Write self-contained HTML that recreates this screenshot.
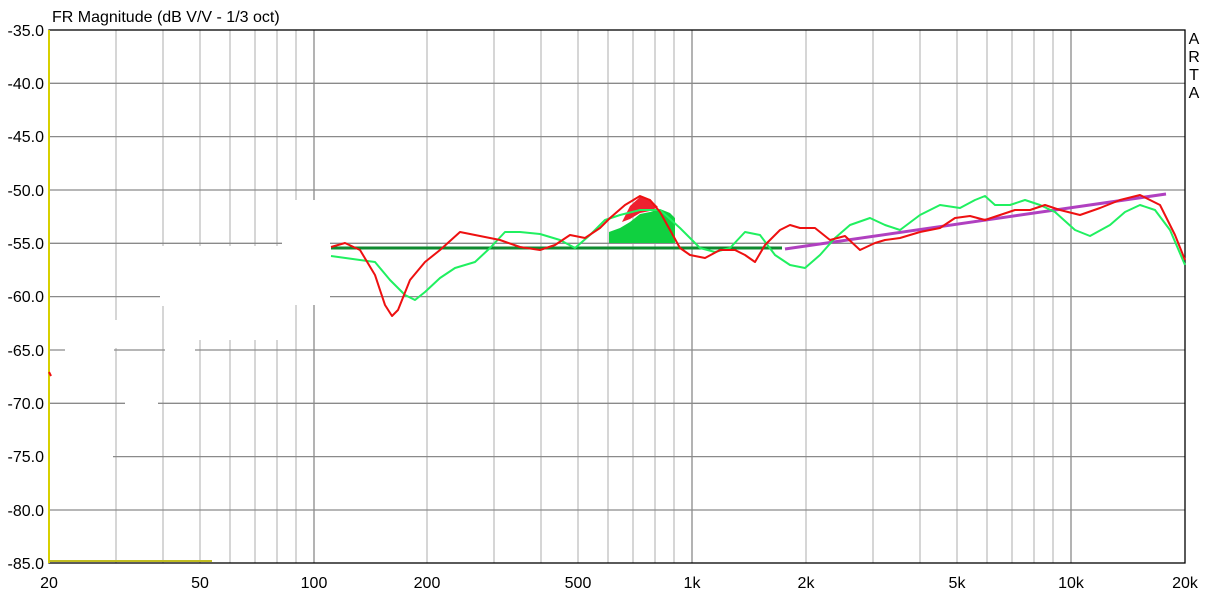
<!DOCTYPE html><html><head><style>body{margin:0;background:#fff}svg{display:block}text{font-family:"Liberation Sans",sans-serif;font-size:16px;fill:#000}</style></head><body>
<svg width="1209" height="594" xmlns="http://www.w3.org/2000/svg">
<rect width="1209" height="594" fill="#fff"/>
<g stroke="#c0c0c0" stroke-width="1.3">
<line x1="116" y1="30" x2="116" y2="563"/><line x1="163" y1="30" x2="163" y2="563"/><line x1="200" y1="30" x2="200" y2="563"/><line x1="230" y1="30" x2="230" y2="563"/><line x1="255" y1="30" x2="255" y2="563"/><line x1="277" y1="30" x2="277" y2="563"/><line x1="296" y1="30" x2="296" y2="563"/>
<line x1="427" y1="30" x2="427" y2="563"/><line x1="494" y1="30" x2="494" y2="563"/><line x1="541" y1="30" x2="541" y2="563"/><line x1="578" y1="30" x2="578" y2="563"/><line x1="608" y1="30" x2="608" y2="563"/><line x1="633" y1="30" x2="633" y2="563"/><line x1="655" y1="30" x2="655" y2="563"/><line x1="674" y1="30" x2="674" y2="563"/>
<line x1="806" y1="30" x2="806" y2="563"/><line x1="873" y1="30" x2="873" y2="563"/><line x1="920" y1="30" x2="920" y2="563"/><line x1="957" y1="30" x2="957" y2="563"/><line x1="987" y1="30" x2="987" y2="563"/><line x1="1012" y1="30" x2="1012" y2="563"/><line x1="1034" y1="30" x2="1034" y2="563"/><line x1="1053" y1="30" x2="1053" y2="563"/>
</g>
<g stroke="#8a8a8a" stroke-width="1.3">
<line x1="314" y1="30" x2="314" y2="563"/><line x1="692" y1="30" x2="692" y2="563"/><line x1="1071" y1="30" x2="1071" y2="563"/>
<line x1="49" y1="83.3" x2="1185" y2="83.3"/><line x1="49" y1="136.6" x2="1185" y2="136.6"/><line x1="49" y1="190" x2="1185" y2="190"/><line x1="49" y1="243.3" x2="1185" y2="243.3"/><line x1="49" y1="296.6" x2="1185" y2="296.6"/><line x1="49" y1="350" x2="1185" y2="350"/><line x1="49" y1="403.3" x2="1185" y2="403.3"/><line x1="49" y1="456.6" x2="1185" y2="456.6"/><line x1="49" y1="510" x2="1185" y2="510"/>
</g>
<g fill="#fff">
<rect x="282" y="200" width="48" height="105"/><rect x="160" y="246" width="125" height="60"/><rect x="196" y="246" width="90" height="94"/>
<rect x="65" y="335" width="49" height="30"/><rect x="165" y="335" width="30" height="30"/><rect x="125" y="390" width="33" height="30"/><rect x="50" y="440" width="63" height="30"/><rect x="110" y="320" width="12" height="28"/>
</g>
<rect x="49" y="30" width="1136" height="533" fill="none" stroke="#000" stroke-width="1.3"/>
<line x1="49" y1="30" x2="49" y2="563" stroke="#d8d000" stroke-width="2"/>
<line x1="49" y1="561" x2="212" y2="561" stroke="#c0bc20" stroke-width="2"/>
<path d="M609,243 L609,232 L620,228 L630,222 L640,214 L650,212 L660,209 L670,213 L675,218 L675,243 Z" fill="#10d040"/>
<path d="M622,222 L630,206 L640,197 L650,199 L658,207 L650,211 L640,213 L630,219 Z" fill="#ee2030"/>
<line x1="331" y1="248" x2="782" y2="248" stroke="#108a30" stroke-width="3"/>
<line x1="785" y1="249" x2="1166" y2="194" stroke="#b040c0" stroke-width="3"/>
<polyline fill="none" stroke="#20f060" stroke-width="2" stroke-linejoin="round" points="331,256 360,260 375,262 390,280 405,295 415,300 425,292 440,278 455,268 475,262 490,248 505,232 520,232 540,234 560,240 575,248 590,235 605,220 620,215 640,210 660,210 680,228 700,248 715,252 730,248 745,232 760,235 775,255 790,265 805,268 820,255 835,238 850,225 870,218 885,225 900,230 920,215 940,205 960,208 975,200 985,196 995,205 1010,205 1025,200 1040,205 1055,212 1075,230 1090,236 1110,225 1125,212 1140,205 1155,210 1170,230 1185,265"/>
<polyline fill="none" stroke="#ee1010" stroke-width="2" stroke-linejoin="round" points="331,247 345,243 360,250 375,275 385,305 392,316 398,310 410,280 425,262 440,250 460,232 480,236 500,240 520,247 540,250 555,245 570,235 585,238 600,228 610,218 625,205 640,196 650,200 660,212 670,230 680,248 690,255 705,258 720,250 735,250 745,255 755,262 765,245 780,230 790,225 800,228 815,228 830,240 845,236 860,250 875,243 885,240 900,238 920,232 940,228 955,218 970,216 985,220 1000,215 1015,210 1030,210 1045,205 1060,210 1080,215 1100,208 1120,200 1140,195 1160,205 1175,235 1185,260"/>
<line x1="49" y1="372" x2="51" y2="376" stroke="#ee1010" stroke-width="2"/>
<text x="52" y="22">FR Magnitude (dB V/V - 1/3 oct)</text>
<g text-anchor="end">
<text x="44" y="36">-35.0</text><text x="44" y="89">-40.0</text><text x="44" y="142">-45.0</text><text x="44" y="196">-50.0</text><text x="44" y="249">-55.0</text><text x="44" y="302">-60.0</text><text x="44" y="356">-65.0</text><text x="44" y="409">-70.0</text><text x="44" y="462">-75.0</text><text x="44" y="516">-80.0</text><text x="44" y="569">-85.0</text>
</g>
<g text-anchor="middle">
<text x="49" y="588">20</text><text x="200" y="588">50</text><text x="314" y="588">100</text><text x="427" y="588">200</text><text x="578" y="588">500</text><text x="692" y="588">1k</text><text x="806" y="588">2k</text><text x="957" y="588">5k</text><text x="1071" y="588">10k</text><text x="1185" y="588">20k</text>
<text x="1194" y="44">A</text><text x="1194" y="62">R</text><text x="1194" y="80">T</text><text x="1194" y="98">A</text>
</g>
</svg></body></html>
